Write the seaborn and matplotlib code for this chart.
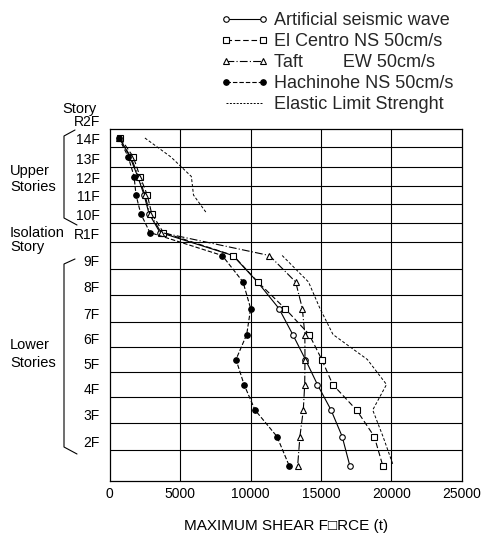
import numpy as np
import pandas as pd
import matplotlib
matplotlib.use("Agg")
import matplotlib.pyplot as plt
import seaborn as sns
from matplotlib.lines import Line2D

sns.set_theme(style="white")
plt.rcParams["font.family"] = ["Liberation Sans Narrow", "Liberation Sans", "DejaVu Sans"]

# ---- data: maximum story shear (t), listed from the top story down ----
stories = ["14F", "13F", "12F", "11F", "10F", "Isolation",
           "9F", "8F", "7F", "6F", "5F", "4F", "3F", "2F", "1F"]
artificial = [700, 1440, 1990, 2440, 2790, 3570,
              8750, 10500, 12020, 13000, 13900, 14750, 15720, 16510, 17050]
el_centro = [750, 1680, 2150, 2670, 2980, 3810,
             8780, 10520, 12450, 14170, 15060, 15840, 17530, 18790, 19390]
taft = [680, 1500, 2050, 2500, 2850, 3650,
        11340, 13210, 13680, 13860, 13870, 13850, 13750, 13510, 13350]
hachinohe = [650, 1320, 1730, 1870, 2200, 2850,
             7990, 9470, 10010, 9730, 8970, 9540, 10320, 11880, 12740]
elastic_limit = [2500, 4350, 5800, 5950, 6900, np.nan,
                 12250, 14120, 14935, 15860, 18300, 19660, 18680, 19410, 20140]

x_ticks = [0, 5000, 10000, 15000, 20000, 25000]
floor_names = ["R2F", "14F", "13F", "12F", "11F", "10F", "R1F",
               "9F", "8F", "7F", "6F", "5F", "4F", "3F", "2F"]

# ---- elevation layout of the floor lines (drawing units, bottom = 0) ----
floor_levels = [352, 334, 314, 295, 277, 258, 239,
                212, 186, 159, 134, 109, 84, 58, 31, 0]
story_mid = [(a + b) / 2 for a, b in zip(floor_levels[:-1], floor_levels[1:])]

W, H = 482, 534
fig = plt.figure(figsize=(W / 100, H / 100), dpi=100)
ax = fig.add_axes([109.7 / W, (H - 481) / H, 352 / W, 352 / H])

INK = "black"
series = [
    ("Artificial seismic wave", artificial, dict(marker="o", mfc="white", linestyle="-")),
    ("El Centro NS 50cm/s", el_centro, dict(marker="s", mfc="white", linestyle=(0, (5, 2.5)))),
    ("Taft        EW 50cm/s", taft, dict(marker="^", mfc="white", linestyle=(0, (7, 2, 1, 2)))),
    ("Hachinohe NS 50cm/s", hachinohe, dict(marker="o", mfc=INK, linestyle=(0, (4, 1.8)))),
]

handles = []
for label, vals, st in series:
    df = pd.DataFrame({"shear": vals, "level": story_mid})
    sns.lineplot(data=df, x="shear", y="level", sort=False, estimator=None,
                 ax=ax, color=INK, lw=0.8, marker=st["marker"], markersize=4,
                 markerfacecolor=st["mfc"], markeredgecolor=INK, markeredgewidth=0.8,
                 linestyle=st["linestyle"])
    handles.append(Line2D([], [], color=INK, lw=0.8, marker=st["marker"], markersize=4,
                          markerfacecolor=st["mfc"], markeredgecolor=INK,
                          markeredgewidth=0.8, linestyle=st["linestyle"], label=label))

# elastic limit: two separate runs (above and below the isolation story)
seg = ["upper" if i < 5 else "lower" for i in range(len(stories))]
el_df = pd.DataFrame({"shear": elastic_limit, "level": story_mid, "seg": seg}).dropna()
sns.lineplot(data=el_df, x="shear", y="level", units="seg", estimator=None, sort=False,
             ax=ax, color=INK, lw=0.7, linestyle=(0, (3, 2)))
handles.append(Line2D([], [], color=INK, lw=0.7, linestyle=(0, (2, 1.5)),
                      label="Elastic Limit Strenght"))

# ---- grid and frame ----
ax.set_xlim(0, 25000)
ax.set_ylim(0, floor_levels[0])
for xv in x_ticks[1:-1]:
    ax.axvline(xv, color=INK, lw=0.8, zorder=0)
for yv in floor_levels[1:-1]:
    ax.axhline(yv, color=INK, lw=0.8, zorder=0)
for sp in ax.spines.values():
    sp.set_color(INK)
    sp.set_linewidth(0.9)

ax.set_xticks(x_ticks)
ax.set_xticklabels([str(v) for v in x_ticks], fontsize=10)
ax.set_yticks(floor_levels[:-1])
ax.set_yticklabels(floor_names, fontsize=10)
for t in ax.get_yticklabels():
    t.set_verticalalignment("bottom")
ax.tick_params(axis="both", length=0, colors=INK)
ax.tick_params(axis="x", pad=4)
ax.tick_params(axis="y", pad=7)
ax.set_xlabel("MAXIMUM SHEAR F\u25a1RCE (t)", fontsize=11, color=INK, labelpad=13)
ax.set_ylabel("")

# ---- side annotations (figure pixel coordinates) ----
def ftext(x, y, s, **kw):
    fig.text(x / W, 1 - y / H, s, fontsize=10.5, color=INK, va="baseline", ha="left", **kw)

ftext(62, 113, "Story")
ftext(10, 175, "Upper")
ftext(10, 191, "Stories")
ftext(10, 237, "Isolation")
ftext(10, 251, "Story")
ftext(10, 349, "Lower")
ftext(10, 367, "Stories")

def bracket(pts):
    xs = [p[0] / W for p in pts]
    ys = [1 - p[1] / H for p in pts]
    fig.add_artist(Line2D(xs, ys, transform=fig.transFigure, color=INK, lw=0.8))

bracket([(75, 130), (64, 136), (64, 218), (77, 225)])
bracket([(75, 259), (64, 264), (64, 447), (77, 454)])

fig.legend(handles=handles, loc="upper left", bbox_to_anchor=(221 / W, 1 - 12 / H),
           frameon=False, numpoints=2, fontsize=13, handlelength=2.65,
           handletextpad=0.3, labelspacing=0.22, borderpad=0, borderaxespad=0)

fig.savefig("out.png", dpi=100, facecolor="white")
